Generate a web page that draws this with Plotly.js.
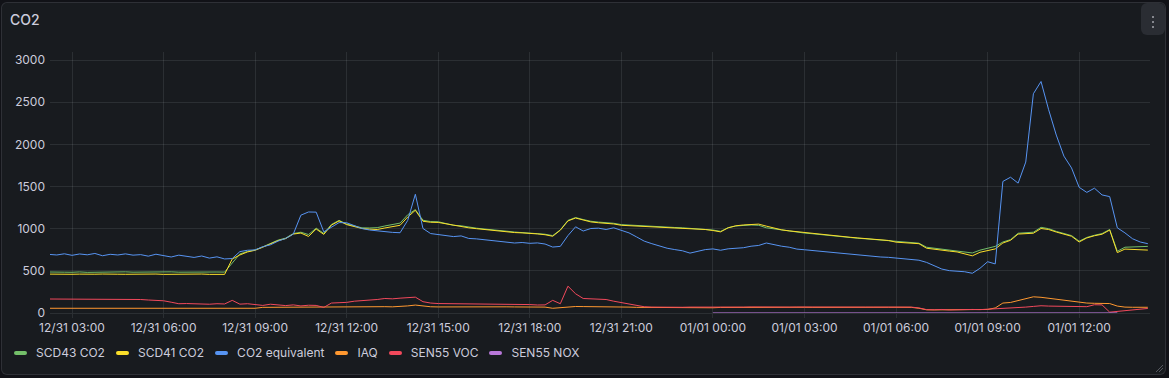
<!DOCTYPE html>
<html>
<head>
<meta charset="utf-8">
<script src="https://cdn.plot.ly/plotly-3.0.1.min.js"></script>
<style>
html,body{margin:0;padding:0;background:#111217;width:1169px;height:378px;overflow:hidden;font-family:Inter,"Noto Sans",sans-serif;}
#panel{position:absolute;left:1px;top:2px;width:1165px;height:373px;background:#181b1f;border:1px solid rgba(204,204,220,0.12);border-radius:6px;box-sizing:border-box;}
#title{position:absolute;left:10px;top:11px;font-size:14px;font-weight:500;color:#ccccdc;line-height:18px;}
#menu{position:absolute;left:1141px;top:3px;width:24px;height:32px;background:#2a2d33;border-radius:6px;}
#menu i{position:absolute;left:11px;width:2px;height:2px;background:#a4a6ae;border-radius:1px;}
#chart{position:absolute;left:0;top:0;width:1169px;height:378px;}
#legend{position:absolute;left:14px;top:345px;display:flex;align-items:center;font-size:12px;color:#ccccdc;line-height:16px;}
#legend .item{display:flex;align-items:center;margin-right:11px;}
#legend .sw{width:13px;height:4px;border-radius:2px;margin-right:9px;}
#grip{position:absolute;left:1154px;top:363px;}
</style>
</head>
<body>
<div id="panel"></div>
<div id="title">CO2</div>
<div id="menu"><i style="top:13px"></i><i style="top:18px"></i><i style="top:23px"></i></div>
<div id="chart"></div>
<div id="legend"></div>
<svg id="grip" width="10" height="10"><path d="M9 2 L2 9 M9 5 L5 9" stroke="#55585f" stroke-width="1"/></svg>
<script>
// Sampling: every 15 minutes starting 2024-12-31 02:15
const startTime = '2024-12-31T02:15:00Z';
const stepMinutes = 15;

const seriesNames = ['SCD43 CO2','SCD41 CO2','CO2 equivalent','IAQ','SEN55 VOC','SEN55 NOX'];
const seriesColors = ['#73BF69','#FADE2A','#5794F2','#FF9830','#F2495C','#B877D9'];

const scd43 = [
 486,482,484,                 // 02
 483,487,482,485, 486,483,485,488, 484,486,482,487, 485,488,484,486, 487,484,489,486, // 03-07
 485,590,700,730, 748,784,826,864, 888,942,958,930, 1006,944,1050,1098,              // 08-11
 1056,1034,1010,1008, 1012,1032,1048,1066, 1165,1226,1100,1084, 1082,1064,1040,1034, // 12-15
 1016,1006,996,990, 980,970,960,955, 950,944,934,918, 986,1098,1132,1108,            // 16-19
 1088,1078,1072,1064, 1048,1042,1036,1032, 1026,1022,1018,1014, 1010,1004,1000,994,  // 20-23
 984,968,1012,1032, 1040,1044,1040,1010, 998,984,972,962, 948,940,930,920,           // 24-27
 912,902,894,886, 880,872,864,858, 846,842,836,828, 780,768,758,748,                 // 28-31
 740,724,712,745, 770,790,842,870, 946,952,958,1016, 1000,968,942,918,               // 32-35
 852,896,922,942, 990,732,780,784,                                                   // 36-37
 788,790                                                                             // 38
];

const scd41 = [
 461,458,462,
 459,461,457,460, 462,458,460,459, 461,457,460,462, 458,460,456,461, 459,462,458,460,
 458,640,688,724, 744,780,822,858, 882,936,948,908, 996,932,1042,1092,
 1048,1028,1002,994, 990,1008,1024,1040, 1138,1218,1088,1076, 1074,1058,1036,1028,
 1010,1000,990,984, 974,966,954,950, 946,938,928,910, 982,1092,1126,1100,
 1080,1070,1064,1056, 1040,1036,1030,1026, 1020,1016,1012,1010, 1006,1000,996,990,
 978,962,1010,1034, 1044,1050,1054,1030, 1004,986,974,964, 950,944,934,924,
 914,906,898,890, 884,876,868,860, 840,836,830,822, 768,754,744,734,
 724,704,678,720, 744,760,830,862, 936,942,946,1002, 990,960,934,910,
 842,890,916,934, 984,716,758,754,
 750,746
];

const co2eq = [
 695,688,702,
 684,700,690,706, 679,696,688,701, 686,692,674,697, 681,664,686,670, 659,676,651,666,
 641,646,728,744, 748,786,808,852, 884,935,1160,1198, 1196,962,1012,1072,
 1070,1040,1002,984, 972,962,956,952, 1098,1408,1002,942, 932,924,906,914,
 884,879,871,862, 851,846,830,836, 826,831,818,782, 790,918,1022,972,
 1002,1006,990,1010, 984,950,902,852, 822,792,768,752, 738,710,731,752,
 760,744,761,770, 774,792,801,830, 808,792,780,758, 750,741,734,721,
 714,706,699,691, 684,671,664,660, 651,648,641,626, 600,560,521,502,
 496,489,471,530, 608,582,1560,1610, 1540,1790,2600,2745, 2410,2110,1860,1720,
 1490,1430,1480,1400, 1380,1010,950,880,
 842,822
];

const iaq = [
 56,56,56,
 56,56,56,56, 56,56,56,56, 56,56,56,56, 56,56,56,56, 56,56,56,56,
 56,56,56,56, 56,67,68,66, 68,70,67,72, 70,68,71,72,
 73,72,74,73, 74,75,73,76, 84,94,80,74, 72,73,72,72,
 73,72,73,72, 72,73,72,73, 72,71,70,56, 62,76,77,76,
 76,77,76,76, 75,70,67,66, 66,67,66,66, 65,66,66,65,
 62,66,67,68, 68,67,68,68, 67,68,68,67, 68,67,68,68,
 67,68,67,68, 68,68,67,68, 68,68,67,56, 38,37,38,36,
 37,38,39,40, 42,60,118,125, 150,170,192,186, 175,160,150,140,
 122,118,115,115, 112,82,70,68,
 68,68
];

const voc = [
 166,166,166,
 166,166,166,166, 166,166,166,166, 165,160,154,148, 145,128,110,112, 108,112,104,110,
 107,150,105,110, 100,90,104,92, 88,96,84,92, 90,66,118,122,
 126,140,146,150, 160,172,168,176, 178,188,134,118, 112,111,110,109,
 110,109,108,108, 108,107,108,107, 100,95,96,150, 110,318,228,172,
 166,162,160,140, 124,108,86,74, 70,68,70,69, 68,70,69,68,
 70,68,72,70, 70,72,70,69, 72,70,70,71, 70,72,70,70,
 70,69,70,70, 70,70,69,70, 70,69,70,60, 40,38,42,36,
 40,38,42,40, 44,46,52,58, 62,70,78,86, 82,80,78,76,
 76,75,98,96, 10,18,24,36,
 48,54
];

const noxTimes = ['2025-01-01 00:00','2025-01-01 02:00','2025-01-01 04:00','2025-01-01 06:00','2025-01-01 08:00','2025-01-01 10:00','2025-01-01 12:00','2025-01-01 13:15'];
const nox = [1,1,1,1,1,1,1,1];

const t0 = Date.parse(startTime);
const times = scd43.map((_, i) => new Date(t0 + i * stepMinutes * 60000).toISOString().slice(0,16).replace('T',' '));

const seriesData = [scd43, scd41, co2eq, iaq, voc];
const traces = seriesData.map((vals, k) => ({
  type: 'scatter', mode: 'lines', x: times, y: vals, name: seriesNames[k],
  line: {color: seriesColors[k], width: 1}, hoverinfo: 'skip'
}));
traces.push({type:'scatter', mode:'lines', x: noxTimes, y: nox, name: seriesNames[5],
  line:{color: seriesColors[5], width:1}, hoverinfo:'skip'});

const gridColor = 'rgba(240,250,255,0.09)';
const tickFont = {family:'Inter, Noto Sans, sans-serif', size:12, color:'#ccccdc'};

const layout = {
  width: 1169, height: 378,
  margin: {l:50, r:19, t:52, b:65, pad:0},
  paper_bgcolor: 'rgba(0,0,0,0)', plot_bgcolor: 'rgba(0,0,0,0)',
  showlegend: false,
  xaxis: {
    type:'date', range:['2024-12-31 02:16:45','2025-01-01 14:19:15'],
    tick0:'2024-12-31 03:00', dtick: 3*3600000, tickformat:'%m/%d %H:%M',
    showgrid:true, gridcolor:gridColor, gridwidth:1,
    ticks:'outside', ticklen:4, tickcolor:gridColor, tickwidth:1,
    showline:false, zeroline:false, tickfont:tickFont, fixedrange:true
  },
  yaxis: {
    range:[0, 3094.9], tick0:0, dtick:500, tickformat:'d',
    showgrid:true, gridcolor:gridColor, gridwidth:1,
    zeroline:true, zerolinecolor:gridColor, zerolinewidth:1,
    ticks:'', ticklabelstandoff:4, showline:false, tickfont:tickFont, fixedrange:true
  }
};

Plotly.newPlot('chart', traces, layout, {displayModeBar:false, staticPlot:true});

const leg = document.getElementById('legend');
seriesNames.forEach((n, k) => {
  const it = document.createElement('div'); it.className='item';
  const sw = document.createElement('span'); sw.className='sw'; sw.style.background = seriesColors[k];
  const tx = document.createElement('span'); tx.textContent = n;
  it.appendChild(sw); it.appendChild(tx); leg.appendChild(it);
});
</script>
</body>
</html>
